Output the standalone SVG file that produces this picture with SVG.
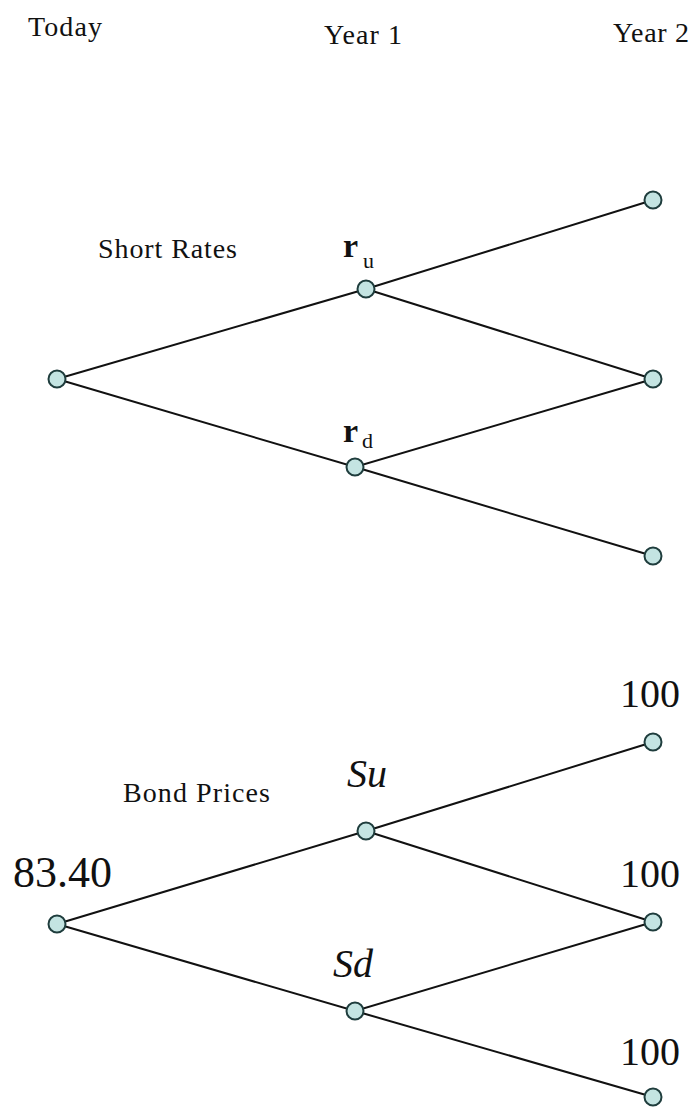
<svg xmlns="http://www.w3.org/2000/svg" width="693" height="1109" viewBox="0 0 693 1109">
<style>
.n{fill:#c4e4e2;stroke:#1f3d3d;stroke-width:2}
.e{stroke:#111;stroke-width:2;fill:none}
text{font-family:"Liberation Serif","Times New Roman","DejaVu Serif",serif;fill:#111}
</style>
<rect width="693" height="1109" fill="#fff"/>
<g id="headers" font-size="28">
<text x="28" y="36" textLength="74" lengthAdjust="spacing">Today</text>
<text x="324" y="44" textLength="78" lengthAdjust="spacing">Year 1</text>
<text x="613" y="42" textLength="76" lengthAdjust="spacing">Year 2</text>
</g>
<g id="connectors">
<path class="e" d="M57 379L366 289L653 200M366 289L653 379M57 379L355 467L653 379M355 467L653 556"/>
<path class="e" d="M57 924L366 831L653 742M366 831L653 922M57 924L355 1011L653 922M355 1011L653 1097"/>
</g>
<g id="labels-top">
<text x="98" y="258" font-size="28" textLength="139" lengthAdjust="spacing">Short Rates</text>
<text x="343" y="257" font-size="34" font-weight="bold">r</text>
<text x="363" y="268" font-size="22">u</text>
<text x="343" y="442" font-size="34" font-weight="bold">r</text>
<text x="362" y="448" font-size="22">d</text>
</g>
<g id="labels-bottom">
<text x="123" y="802" font-size="28" textLength="147" lengthAdjust="spacing">Bond Prices</text>
<text x="347" y="787" font-size="40" font-style="italic">Su</text>
<text x="333" y="977" font-size="40" font-style="italic">Sd</text>
<text x="13" y="887" font-size="44">83.40</text>
<text x="620" y="707" font-size="40">100</text>
<text x="620" y="887" font-size="40">100</text>
<text x="620" y="1065" font-size="40">100</text>
</g>
<g id="node-t0"><circle class="n" cx="57" cy="379" r="8.5"/></g>
<g id="node-ru"><circle class="n" cx="366" cy="289" r="8.5"/></g>
<g id="node-rd"><circle class="n" cx="355" cy="467" r="8.5"/></g>
<g id="node-uu"><circle class="n" cx="653" cy="200" r="8.5"/></g>
<g id="node-ud"><circle class="n" cx="653" cy="379" r="8.5"/></g>
<g id="node-dd"><circle class="n" cx="653" cy="556" r="8.5"/></g>
<g id="node-b0"><circle class="n" cx="57" cy="924" r="8.5"/></g>
<g id="node-su"><circle class="n" cx="366" cy="831" r="8.5"/></g>
<g id="node-sd"><circle class="n" cx="355" cy="1011" r="8.5"/></g>
<g id="node-b-uu"><circle class="n" cx="653" cy="742" r="8.5"/></g>
<g id="node-b-ud"><circle class="n" cx="653" cy="922" r="8.5"/></g>
<g id="node-b-dd"><circle class="n" cx="653" cy="1097" r="8.5"/></g>
</svg>
